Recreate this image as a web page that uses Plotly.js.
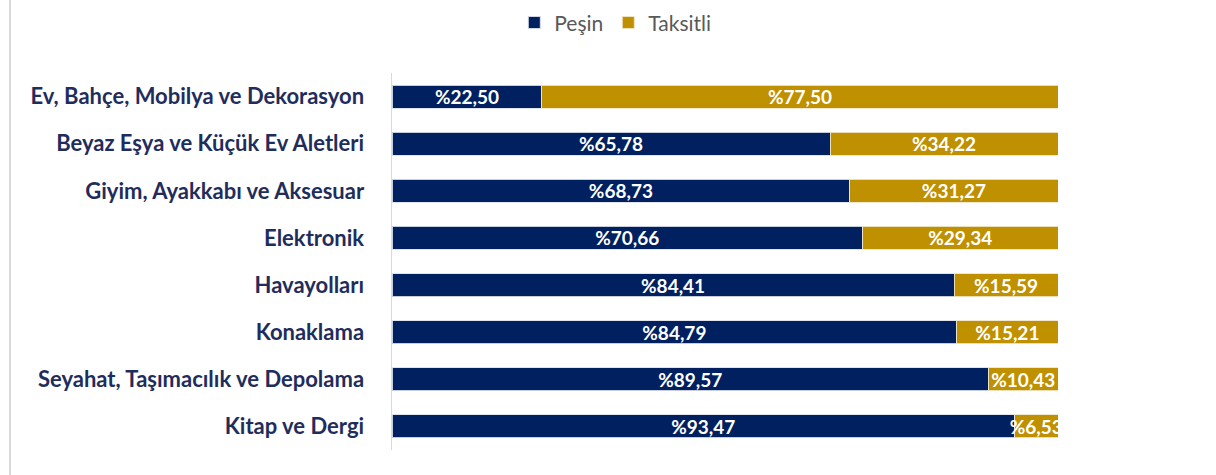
<!DOCTYPE html>
<html>
<head>
<meta charset="utf-8">
<script src="https://cdn.plot.ly/plotly-3.0.1.min.js"></script>
<style>
html,body{margin:0;padding:0;background:#fff;}
#chart{width:1216px;height:475px;position:relative;}
#border{position:absolute;left:9px;top:0;width:2px;height:475px;background:#d9d9d9;z-index:5;}
</style>
</head>
<body>
<div id="border"></div>
<div id="chart"></div>
<script>
const categories = [
  "Ev, Bahçe, Mobilya ve Dekorasyon",
  "Beyaz Eşya ve Küçük Ev Aletleri",
  "Giyim, Ayakkabı ve Aksesuar",
  "Elektronik",
  "Havayolları",
  "Konaklama",
  "Seyahat, Taşımacılık ve Depolama",
  "Kitap ve Dergi"
];
const pesin = [22.50, 65.78, 68.73, 70.66, 84.41, 84.79, 89.57, 93.47];
const taksitli = [77.50, 34.22, 31.27, 29.34, 15.59, 15.21, 10.43, 6.53];
const seriesNames = ["Peşin", "Taksitli"];

const fmt = v => "%" + v.toFixed(2).replace(".", ",");
const textFont = {family: "Lato, 'Open Sans', sans-serif", size: 19, color: "#ffffff", weight: "bold"};

const traces = [
  {
    type: "bar", orientation: "h", name: seriesNames[0],
    y: categories, x: pesin, text: pesin.map(fmt),
    textposition: "inside", insidetextanchor: "middle", constraintext: "none",
    textfont: textFont, cliponaxis: true,
    marker: {color: "#002060", line: {color: "rgba(220,225,235,0.9)", width: 1}},
    hoverinfo: "none"
  },
  {
    type: "bar", orientation: "h", name: seriesNames[1],
    y: categories, x: taksitli, text: taksitli.map(fmt),
    textposition: "inside", insidetextanchor: "middle", constraintext: "none",
    textfont: textFont, cliponaxis: true,
    marker: {color: "#BF9000", line: {color: "rgba(240,230,200,0.9)", width: 1}},
    hoverinfo: "none"
  }
];

const layout = {
  width: 1216, height: 475,
  barmode: "stack", bargap: 0.51,
  margin: {l: 392, r: 158, t: 73, b: 25},
  paper_bgcolor: "#ffffff", plot_bgcolor: "#ffffff",
  showlegend: true,
  legend: {
    orientation: "h", x: 0.506, xref: "container", xanchor: "center",
    y: 0.995, yref: "container", yanchor: "top",
    font: {family: "Lato, 'Open Sans', sans-serif", size: 21, color: "#595959"},
    itemwidth: 30, traceorder: "normal"
  },
  xaxis: {
    range: [0, 100], showgrid: false, zeroline: false,
    showticklabels: false, showline: false, fixedrange: true
  },
  yaxis: {
    type: "category", autorange: "reversed",
    showline: true, linecolor: "#d9d9d9", linewidth: 1.5,
    showgrid: false, ticks: "", ticklabelstandoff: 22,
    tickfont: {family: "Lato, 'Open Sans', sans-serif", size: 22, color: "#1F2D5C", weight: "bold"}
  }
};

Plotly.newPlot("chart", traces, layout, {displayModeBar: false, staticPlot: true});
</script>
</body>
</html>
